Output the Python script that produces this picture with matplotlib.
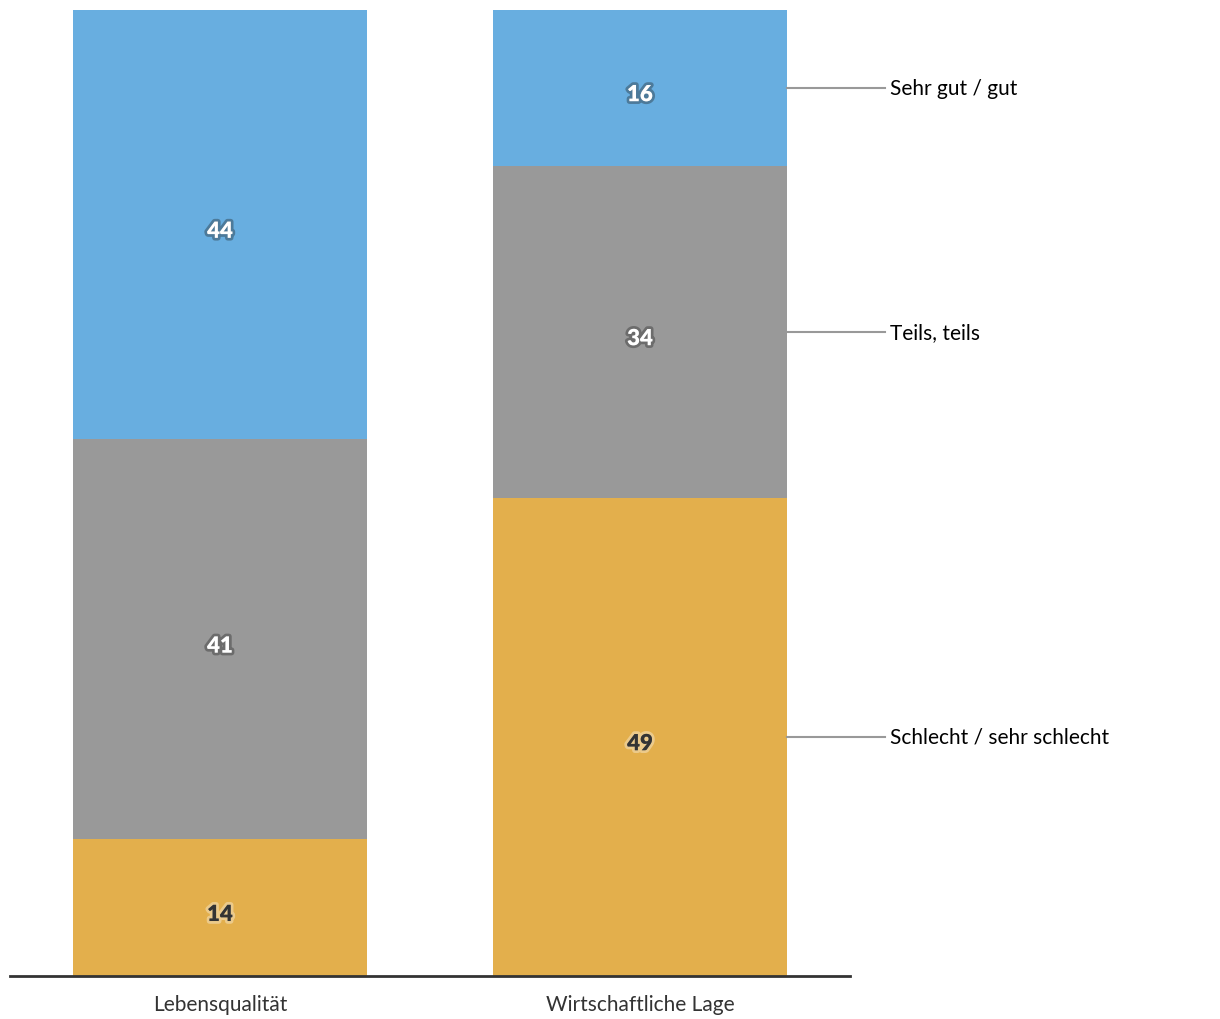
import numpy as np
import matplotlib.pyplot as plt
import matplotlib.patheffects as pe

categories = ["Lebensqualität", "Wirtschaftliche Lage"]
series_names = ["Schlecht / sehr schlecht", "Teils, teils", "Sehr gut / gut"]
values = {
    "Schlecht / sehr schlecht": [14, 49],
    "Teils, teils": [41, 34],
    "Sehr gut / gut": [44, 16],
}
colors = {
    "Schlecht / sehr schlecht": "#e3af4c",
    "Teils, teils": "#999999",
    "Sehr gut / gut": "#68aee0",
}

plt.rcParams['font.family'] = ['Lato', 'DejaVu Sans']

fig = plt.figure(figsize=(12.2, 10.2), dpi=100)
ax = fig.add_axes([10 / 1220, 43 / 1020, 840 / 1220, 976 / 1020])

x = np.arange(len(categories))
width = 0.7
bottom = np.zeros(len(categories))
for name in series_names:
    vals = np.array(values[name])
    ax.bar(x, vals, width, bottom=bottom, color=colors[name], linewidth=0)
    for i, v in enumerate(vals):
        y = bottom[i] + v / 2 - 0.7
        if name == "Schlecht / sehr schlecht":
            txt_color, glow = "#333333", (1, 1, 1, 0.35)
        else:
            txt_color, glow = "white", (0.1, 0.1, 0.1, 0.35)
        ax.text(x[i], y, str(v), ha="center", va="center", fontsize=16,
                fontweight="heavy", color=txt_color,
                path_effects=[pe.withStroke(linewidth=4, foreground=glow)])
    # label on the right bar
    y_last = bottom[-1] + vals[-1] / 2
    ax.plot([x[-1] + width / 2, 1.583], [y_last, y_last], color="#999999",
            linewidth=1.5, clip_on=False)
    ax.text(1.595, y_last, name, ha="left", va="center", fontsize=15,
            color="black", clip_on=False)
    bottom += vals

ax.set_xlim(-0.5, 1.5)
ax.set_ylim(0, 100)
ax.set_xticks(x)
ax.set_xticklabels(categories, fontsize=15, color="#333333")
ax.tick_params(axis="x", length=0, pad=13)
ax.set_yticks([])
for s in ["top", "right", "left"]:
    ax.spines[s].set_visible(False)
ax.spines["bottom"].set_color("#333333")
ax.spines["bottom"].set_linewidth(2)

fig.savefig("out.png", dpi=100)
